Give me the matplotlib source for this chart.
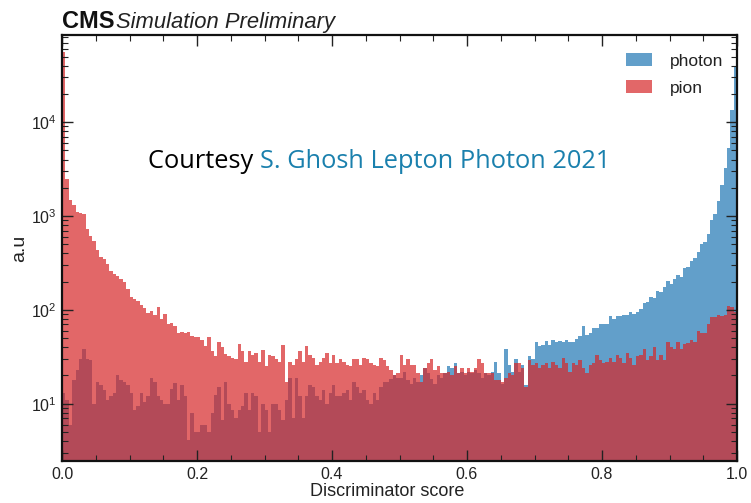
import numpy as np
import matplotlib
matplotlib.use("Agg")
import matplotlib.pyplot as plt
from matplotlib.ticker import MultipleLocator, LogLocator

# Discriminator score binning: 200 equal bins on [0, 1]
bin_edges = np.linspace(0.0, 1.0, 201)

# Bin contents (arbitrary units) for the pion sample
pion = [
    56000, 2500, 1500, 1300, 1100, 1080, 1050, 720, 620, 540,
    430, 370, 345, 305, 262, 240, 230, 212, 197, 168,
    137, 130, 124, 114, 105, 93, 97, 89, 106, 79,
    90, 70, 73, 67, 57, 58, 57, 58, 53, 51,
    52, 48, 41, 52, 36, 32, 46, 40, 34, 32,
    31, 30, 43, 36, 28, 36, 33, 35, 28, 37,
    25, 33, 32, 30, 28, 42, 17, 28, 26, 30,
    36, 28, 41, 33, 31, 26, 28, 31, 35, 27,
    33, 27, 30, 28, 26, 25, 30, 30, 26, 31,
    30, 27, 26, 25, 31, 29, 25, 23, 20, 21,
    33, 26, 30, 26, 26, 21, 17, 24, 27, 30,
    23, 25, 21, 21, 22, 20, 25, 21, 24, 21,
    24, 22, 24, 30, 27, 21, 21, 21, 18, 18,
    17, 19, 21, 20, 27, 27, 24, 15, 29, 26,
    27, 24, 26, 27, 24, 28, 26, 24, 31, 27,
    22, 27, 26, 29, 24, 21, 26, 27, 33, 29,
    27, 28, 31, 28, 33, 31, 27, 35, 31, 26,
    32, 33, 38, 29, 32, 40, 29, 33, 29, 46,
    40, 38, 46, 38, 43, 44, 48, 46, 59, 57,
    57, 70, 83, 83, 89, 86, 89, 110, 106, 95,
]

# Bin contents (arbitrary units) for the photon sample
photon = [
    13, 11, 6, 18, 23, 30, 38, 30, 29, 10,
    17, 16, 14, 11, 12, 13, 20, 18, 17, 16,
    13, 8.6, 9.4, 13, 10.5, 12, 19, 17, 12, 11,
    10, 10, 14.5, 16.7, 11, 16, 12, 4.1, 8, 5,
    5, 6, 6, 5, 8, 12.5, 15, 6.7, 17, 10,
    8.6, 7, 8.6, 9.4, 13, 8.6, 13, 12, 5, 10,
    8.6, 5, 10, 10, 8.6, 6.7, 11, 19, 7, 19,
    12, 7, 12, 16, 15, 12, 11, 14, 10, 13,
    16, 12, 12, 13, 14, 11, 17, 15, 13, 14,
    11, 10, 13, 11, 15, 17, 17, 18.5, 20, 19,
    19, 21.5, 18, 16.4, 19, 17, 20, 24, 21, 18.5,
    16.4, 20, 19, 21, 25, 24, 27, 21, 21.5, 20,
    22, 21, 23, 21, 19, 21, 20, 21.5, 28, 21,
    16.4, 38, 26, 22, 30, 22, 26, 16, 32, 30,
    45, 41, 42, 47, 42, 48, 45, 47, 46, 48,
    46, 46, 49, 53, 68, 54, 57, 64, 64, 70,
    70, 71, 85, 80, 85, 87, 88, 88, 95, 90,
    95, 102, 118, 122, 138, 133, 160, 155, 175, 205,
    190, 211, 235, 225, 280, 285, 330, 360, 410, 500,
    530, 650, 900, 1050, 1450, 2150, 3250, 5300, 13500, 39000,
]

x_ticks = [0.0, 0.2, 0.4, 0.6, 0.8, 1.0]
x_label = "Discriminator score"
y_label = "a.u"
series_labels = ["photon", "pion"]
series_colors = ["tab:blue", "tab:red"]

plt.rcParams["font.family"] = ["Liberation Sans", "DejaVu Sans"]
plt.rcParams["mathtext.fontset"] = "custom"
plt.rcParams["mathtext.rm"] = "Liberation Sans"

fig = plt.figure(figsize=(7.51, 5.03), dpi=100)
ax = fig.add_axes([62 / 751, 1 - 461 / 503, 675 / 751, 426 / 503])

ax.stairs(photon, bin_edges, fill=True, color=series_colors[0], alpha=0.7,
          label=series_labels[0], linewidth=0)
ax.stairs(pion, bin_edges, fill=True, color=series_colors[1], alpha=0.7,
          label=series_labels[1], linewidth=0)

ax.set_yscale("log")
ax.set_xlim(0.0, 1.0)
ax.set_ylim(2.45, 85000)

ax.set_xticks(x_ticks)
ax.set_xticklabels([f"{t:.1f}" for t in x_ticks])
ax.xaxis.set_minor_locator(MultipleLocator(0.05))
ax.yaxis.set_major_locator(LogLocator(base=10, numticks=10))
ax.yaxis.set_minor_locator(LogLocator(base=10, subs=np.arange(2, 10), numticks=20))

ax.tick_params(which="both", direction="in", top=True, right=True,
               labelsize=11.5, colors="#222222", labelcolor="#222222")
ax.tick_params(which="major", length=8, width=1.0, pad=4)
ax.tick_params(which="minor", length=4, width=0.8)
for spine in ax.spines.values():
    spine.set_linewidth(1.6)
    spine.set_color("#111111")

ax.set_xlabel(x_label, fontsize=13, color="#222222")
ax.xaxis.set_label_coords(0.482, -0.052)
ax.set_ylabel(y_label, fontsize=14, color="#222222")
ax.yaxis.set_label_coords(-0.05, 0.5)

leg = ax.legend(loc="upper right", frameon=False, fontsize=12.5,
                handlelength=1.5, handleheight=0.8, borderaxespad=0.4,
                labelspacing=0.65, handletextpad=1.0, bbox_to_anchor=(1.0, 0.99))
for txt in leg.get_texts():
    txt.set_color("#222222")

fig.text(62 / 751, 1 - 28 / 503, "CMS", fontsize=17, fontweight="bold",
         va="baseline", ha="left", color="#111111")
fig.text(116 / 751, 1 - 28 / 503, "Simulation Preliminary", fontsize=15.8,
         fontstyle="italic", va="baseline", ha="left", color="#222222")

t1 = fig.text(148 / 751, 1 - 168 / 503, "Courtesy ", fontsize=18.3,
              family="Open Sans", va="baseline", ha="left", color="black")
fig.canvas.draw()
bb = t1.get_window_extent()
fig.text(bb.x1 / fig.bbox.width, 1 - 168 / 503, "S. Ghosh Lepton Photon 2021",
         fontsize=18.3, family="Open Sans", va="baseline", ha="left",
         color="#1a80ad")

fig.savefig("out.png", dpi=100)
